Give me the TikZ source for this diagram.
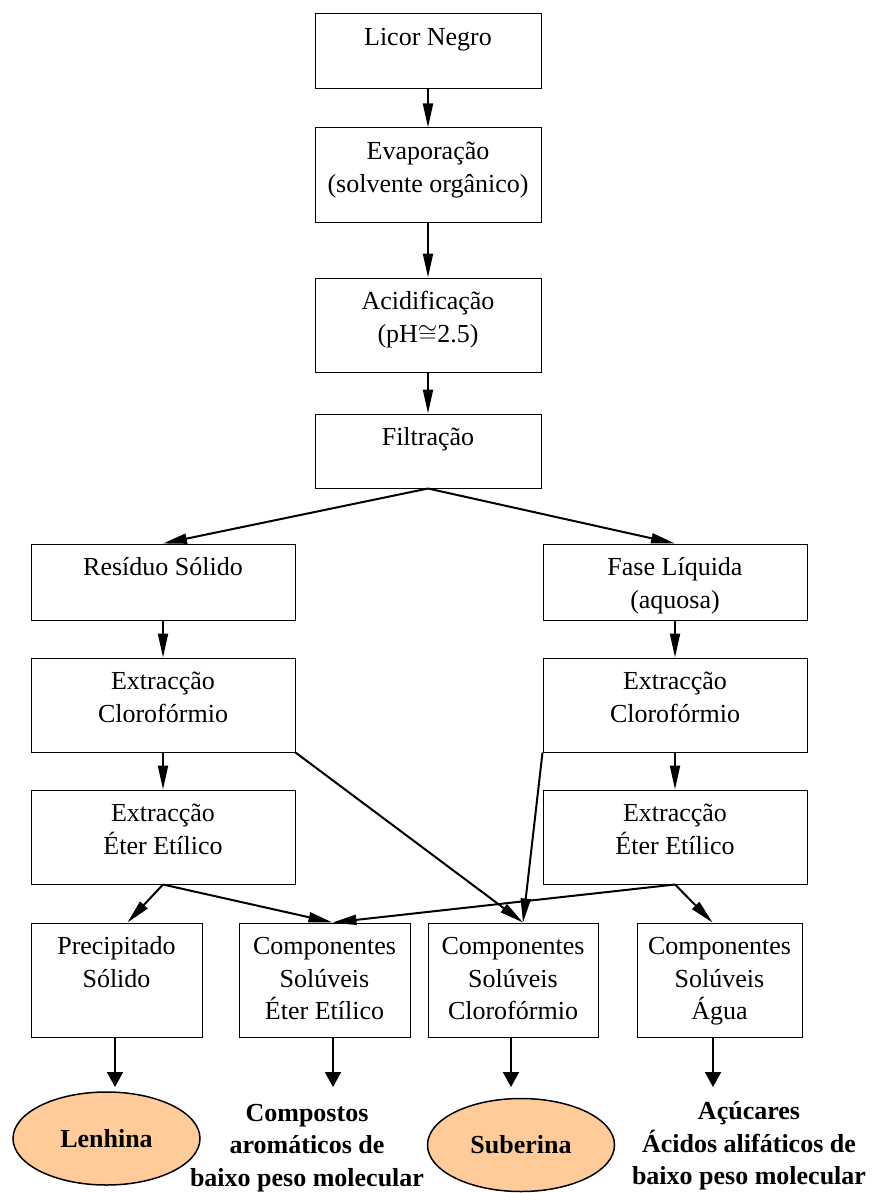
\documentclass[tikz,border=0pt]{standalone}
\usepackage{fontspec}
\setmainfont{Liberation Serif}
\usetikzlibrary{arrows.meta,shapes.geometric}
\tikzset{>={Triangle[length=24pt,width=10pt]}}
\definecolor{peach}{RGB}{255,204,153}
\colorlet{penColor}{black}
\newcommand{\diagfont}{\fontsize{26}{32.5}\selectfont}
\newcommand{\boxtxt}[3]{\parbox[c][#2pt][t]{#1pt}{\centering\vspace*{9pt}\strut #3}}
\tikzset{
  stepbox/.style={draw=penColor,line width=1pt,inner sep=0pt,font=\diagfont},
  arr/.style={->,line width=2pt},
  shortarr/.style={-{Triangle[length=15pt,width=16pt]},line width=2pt},
  result/.style={ellipse,draw=penColor,line width=1.5pt,fill=peach,inner sep=0pt,
    minimum width=187pt,minimum height=93pt,font=\diagfont\bfseries},
  product/.style={align=center,font=\fontsize{26}{32.5}\selectfont\bfseries}
}

\begin{document}
\begin{tikzpicture}[x=1pt,y=-1pt]
  \useasboundingbox (0,0) rectangle (871,1193);
  \node [stepbox] (licor) at (428,51.5) {\boxtxt{226}{75}{Licor Negro}};
  \node [stepbox] (evap) at (428,175) {\boxtxt{226}{94}{Evaporação\\(solvente orgânico)}};
  \node [stepbox] (acid) at (428,325) {\boxtxt{226}{94}{Acidificação\\(pH${\cong}$2.5)}};
  \node [stepbox] (filt) at (428,451) {\boxtxt{226}{74}{Filtração}};
  \node [stepbox] (res) at (163,582) {\boxtxt{264}{76}{Resíduo Sólido}};
  \node [stepbox] (fase) at (675,582) {\boxtxt{264}{76}{Fase Líquida\\(aquosa)}};
  \node [stepbox] (clorL) at (163,705) {\boxtxt{264}{94}{Extracção\\Clorofórmio}};
  \node [stepbox] (clorR) at (675,705) {\boxtxt{264}{94}{Extracção\\Clorofórmio}};
  \node [stepbox] (eterL) at (163,837) {\boxtxt{264}{94}{Extracção\\Éter Etílico}};
  \node [stepbox] (eterR) at (675,837) {\boxtxt{264}{94}{Extracção\\Éter Etílico}};
  \node [stepbox] (precip) at (116.5,980) {\boxtxt{171}{114}{Precipitado\\Sólido}};
  \node [stepbox] (compEter) at (324.5,980) {\boxtxt{171}{114}{Componentes\\Solúveis\\Éter Etílico}};
  \node [stepbox] (compClor) at (513,980) {\boxtxt{170}{114}{Componentes\\Solúveis\\Clorofórmio}};
  \node [stepbox] (compAgua) at (719.5,980) {\boxtxt{165}{114}{Componentes\\Solúveis\\Água}};
  \node [result] (lenhina) at (106.5,1138.5) {Lenhina};
  \node [result] (suberina) at (521,1145) {Suberina};
  \node [product] (aromat) at (307,1148) {Compostos\\aromáticos de\\baixo peso molecular};
  \node [product] (acucar) at (749,1146) {Açúcares\\Ácidos alifáticos de\\baixo peso molecular};
  \coordinate (a1) at (115,1087);
  \coordinate (a2) at (333,1087);
  \coordinate (a3) at (511,1087);
  \coordinate (a4) at (713,1087);
  \draw [arr] (licor.south) -- (evap.north);
  \draw [arr] (evap.south) -- (acid.north);
  \draw [arr] (acid.south) -- (filt.north);
  \draw [arr] (filt.south) -- (res.north);
  \draw [arr] (filt.south) -- (fase.north);
  \draw [arr] (res.south) -- (clorL.north);
  \draw [arr] (fase.south) -- (clorR.north);
  \draw [arr] (clorL.south) -- (eterL.north);
  \draw [arr] (clorR.south) -- (eterR.north);
  \draw [arr] (clorL.south east) -- ([xshift=10pt]compClor.north);
  \draw [arr] (clorR.south west) -- ([xshift=10pt]compClor.north);
  \draw [arr] (eterL.south) -- ([xshift=11pt]precip.north);
  \draw [arr] (eterL.south) -- ([xshift=8pt]compEter.north);
  \draw [arr] (eterR.south) -- ([xshift=8pt]compEter.north);
  \draw [arr] (eterR.south) -- ([xshift=-7pt]compAgua.north);
  \draw [shortarr] (precip.south -| a1) -- (a1);
  \draw [shortarr] (compEter.south -| a2) -- (a2);
  \draw [shortarr] (compClor.south -| a3) -- (a3);
  \draw [shortarr] (compAgua.south -| a4) -- (a4);
\end{tikzpicture}
\end{document}
